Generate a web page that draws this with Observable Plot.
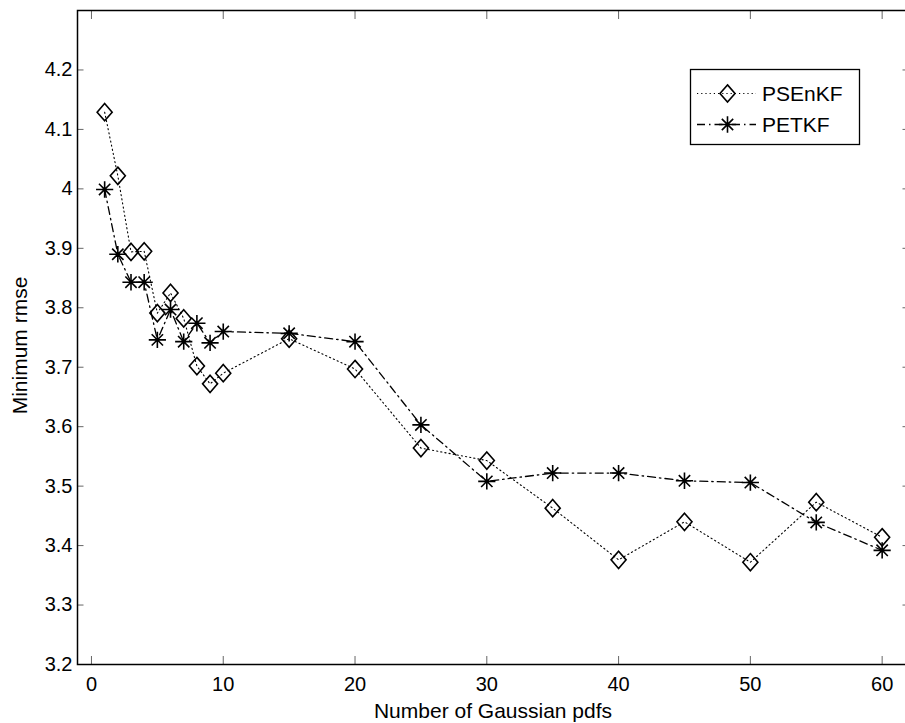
<!DOCTYPE html>
<html>
<head>
<meta charset="utf-8">
<script src="https://cdn.jsdelivr.net/npm/d3@7"></script>
<script src="https://cdn.jsdelivr.net/npm/@observablehq/plot@0.6"></script>
<style>
  html, body { margin: 0; padding: 0; background: white; overflow: hidden; }
  #chart { position: relative; width: 905px; height: 723px; overflow: hidden; }
  #chart svg { max-width: none !important; display: block; }
</style>
</head>
<body>
<div id="chart"></div>
<script>
// ---- data ----
const numPdfs = [1, 2, 3, 4, 5, 6, 7, 8, 9, 10, 15, 20, 25, 30, 35, 40, 45, 50, 55, 60];
const psenkf  = [4.129, 4.022, 3.894, 3.895, 3.791, 3.825, 3.782, 3.702, 3.672, 3.690,
                 3.748, 3.697, 3.564, 3.543, 3.463, 3.376, 3.440, 3.372, 3.473, 3.414];
const petkf   = [3.999, 3.890, 3.843, 3.843, 3.746, 3.797, 3.743, 3.774, 3.741, 3.760,
                 3.757, 3.743, 3.603, 3.508, 3.522, 3.522, 3.509, 3.506, 3.439, 3.392];
const seriesNames = ["PSEnKF", "PETKF"];
const xTicks = [0, 10, 20, 30, 40, 50, 60];
const yTicks = [3.2, 3.3, 3.4, 3.5, 3.6, 3.7, 3.8, 3.9, 4.0, 4.1, 4.2];
const xLabel = "Number of Gaussian pdfs";
const yLabel = "Minimum rmse";

const rows = numPdfs.map((x, i) => ({x, psenkf: psenkf[i], petkf: petkf[i]}));

// MATLAB-like markers
const diamond = {
  draw(ctx, size) {
    const r = Math.sqrt(size / Math.PI);
    ctx.moveTo(0, -r * 1.08);
    ctx.lineTo(r * 0.94, 0);
    ctx.lineTo(0, r * 1.08);
    ctx.lineTo(-r * 0.94, 0);
    ctx.closePath();
  }
};
const asterisk = {
  draw(ctx, size) {
    const r = Math.sqrt(size / Math.PI);
    const h = r, v = r * 0.95, d = r * 0.66;
    ctx.moveTo(-h, 0); ctx.lineTo(h, 0);
    ctx.moveTo(0, -v); ctx.lineTo(0, v);
    ctx.moveTo(-d, -d); ctx.lineTo(d, d);
    ctx.moveTo(-d, d); ctx.lineTo(d, -d);
  }
};

const dotted = "1.2,3";
const dashDot = "8,4,1.5,4";
const fmtY = d => String(+d.toFixed(1));
const font = "'Liberation Sans', Arial, Helvetica, sans-serif";

const plot = Plot.plot({
  width: 908,
  height: 723,
  marginLeft: 77,
  marginRight: 0,
  marginTop: 10,
  marginBottom: 59,
  x: {domain: [-1.06, 62]},
  y: {domain: [3.2, 4.3]},
  style: {fontFamily: font, fontSize: "20px", color: "black", background: "white"},
  marks: [
    Plot.axisX(xTicks, {anchor: "bottom", tickSize: -8, tickPadding: 20, label: null, stroke: "#666"}),
    Plot.axisX(xTicks, {anchor: "top", tickSize: -8, tickFormat: () => "", label: null, stroke: "#666"}),
    Plot.axisY(yTicks, {anchor: "left", tickSize: -6.5, tickPadding: 11.5, tickFormat: fmtY, label: null, stroke: "#666"}),
    Plot.axisY(yTicks, {anchor: "right", tickSize: -6.5, tickFormat: () => "", label: null, stroke: "#666"}),
    Plot.line(rows, {x: "x", y: "psenkf", stroke: "black", strokeWidth: 1.1, strokeDasharray: dotted}),
    Plot.line(rows, {x: "x", y: "petkf", stroke: "black", strokeWidth: 1.3, strokeDasharray: dashDot}),
    Plot.dot(rows, {x: "x", y: "psenkf", symbol: diamond, r: 8, stroke: "black", strokeWidth: 1.6, fill: "none"}),
    Plot.dot(rows, {x: "x", y: "petkf", symbol: asterisk, r: 8.6, stroke: "black", strokeWidth: 1.6, fill: "none"}),
    Plot.frame({stroke: "black", strokeWidth: 1.5}),
    Plot.text([xLabel], {frameAnchor: "bottom", lineAnchor: "middle", textAnchor: "middle", dy: 47, fontSize: 21, fill: "black"}),
    Plot.text([yLabel], {frameAnchor: "left", lineAnchor: "middle", textAnchor: "middle", dx: -57, dy: 8, rotate: -90, fontSize: 21, fill: "black"})
  ]
});

document.getElementById("chart").appendChild(plot);

// ---- legend (MATLAB style box) ----
const svg = d3.select(plot);
const lg = svg.append("g").attr("class", "legend")
  .attr("font-family", font)
  .attr("font-size", 21)
  .attr("text-anchor", "start");
lg.append("rect").attr("x", 690.5).attr("y", 69.5).attr("width", 169).attr("height", 75)
  .attr("fill", "white").attr("stroke", "black").attr("stroke-width", 1.3);
const entries = [
  {name: seriesNames[0], dash: dotted, sym: diamond, r: 8, lw: 1.1, y: 93.5},
  {name: seriesNames[1], dash: dashDot, sym: asterisk, r: 8.6, lw: 1.3, y: 124.5}
];
entries.forEach(e => {
  lg.append("line").attr("x1", 697).attr("x2", 756).attr("y1", e.y).attr("y2", e.y)
    .attr("stroke", "black").attr("stroke-width", e.lw).attr("stroke-dasharray", e.dash);
  const p = d3.path();
  e.sym.draw(p, Math.PI * e.r * e.r);
  lg.append("path").attr("d", p.toString()).attr("transform", `translate(727.5,${e.y})`)
    .attr("fill", "none").attr("stroke", "black").attr("stroke-width", 1.6);
  lg.append("text").attr("x", 762).attr("y", e.y).attr("dy", "0.36em")
    .attr("text-anchor", "start").attr("fill", "black").text(e.name);
});
</script>
</body>
</html>
